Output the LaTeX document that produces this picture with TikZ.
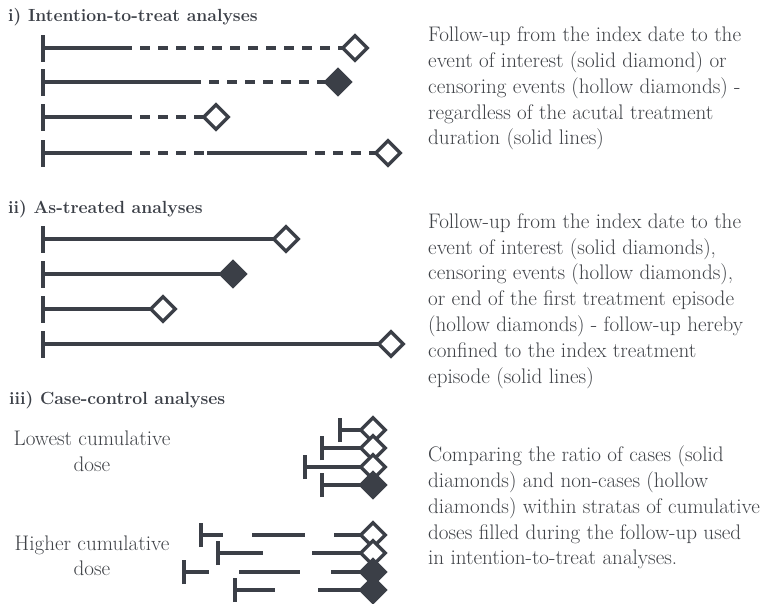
\documentclass[tikz,border=0pt]{standalone}
\usetikzlibrary{shapes.geometric,arrows.meta}
\definecolor{ink}{HTML}{3B3F47}
\definecolor{txt}{HTML}{3F4247}
\begin{document}
\begin{tikzpicture}[x=1pt,y=-1pt,
  ln/.style={ink,line width=3.8pt},
  dsh/.style={ln,dash pattern=on 10pt off 8pt,dash phase=10pt},
  tickA/.style={ln,{Bar[width=27pt]}-},
  tickB/.style={ln,{Bar[width=24pt]}-},
  hd/.style={diamond,draw=ink,fill=white,line width=3.4pt,minimum width=26pt,minimum height=26pt,inner sep=0pt},
  fd/.style={hd,fill=ink},
  ttl/.style={anchor=base west,inner sep=0pt,text=ink,font=\fontsize{17.6}{20}\selectfont\bfseries},
  body/.style={anchor=base west,inner sep=0pt,text=txt,font=\fontsize{21.1}{26}\selectfont},
  lab/.style={anchor=base,inner sep=0pt,text=txt,font=\fontsize{21.1}{26}\selectfont}
]
\useasboundingbox[fill=white] (0,0) rectangle (766,603);

% ---------- titles
\node[ttl] (t1) at (8,21.7) {i) Intention-to-treat analyses};
\node[ttl] (t2) at (8,213) {ii) As-treated analyses};
\node[ttl] (t3) at (9,404) {iii) Case-control analyses};

% ---------- section i
\coordinate (a1s) at (41,48);  \coordinate (a1m) at (132,48);
\coordinate (a2s) at (41,82);  \coordinate (a2m) at (201,82);
\coordinate (a3s) at (41,117); \coordinate (a3m) at (132,117);
\coordinate (a4s) at (41,153); \coordinate (a4m) at (132,153);
\coordinate (a4n) at (207,153); \coordinate (a4o) at (307,153);
\coordinate (a1d) at (355,48);
\coordinate (a2d) at (338,82);
\coordinate (a3d) at (216,117);
\coordinate (a4d) at (388,153);
\draw[tickA] (a1s) -- (a1m); \draw[dsh] (a1m) -- ([xshift=-13pt]a1d);
\draw[tickA] (a2s) -- (a2m); \draw[dsh] (a2m) -- ([xshift=-13pt]a2d);
\draw[tickA] (a3s) -- (a3m); \draw[dsh] (a3m) -- ([xshift=-13pt]a3d);
\draw[tickA] (a4s) -- (a4m); \draw[dsh] (a4m) -- (a4n);
\draw[ln] (a4n) -- (a4o); \draw[dsh] (a4o) -- ([xshift=-13pt]a4d);
\node[hd] (A1) at (a1d) {};
\node[fd] (A2) at (a2d) {};
\node[hd] (A3) at (a3d) {};
\node[hd] (A4) at (a4d) {};

% ---------- section ii
\coordinate (b1s) at (41,239); \coordinate (b1d) at (286,239);
\coordinate (b2s) at (41,274); \coordinate (b2d) at (233,274);
\coordinate (b3s) at (41,309); \coordinate (b3d) at (163,309);
\coordinate (b4s) at (41,344); \coordinate (b4d) at (391,344);
\draw[tickA] (b1s) -- ([xshift=-13pt]b1d);
\draw[tickA] (b2s) -- ([xshift=-13pt]b2d);
\draw[tickA] (b3s) -- ([xshift=-13pt]b3d);
\draw[tickA] (b4s) -- ([xshift=-13pt]b4d);
\node[hd] (B1) at (b1d) {};
\node[fd] (B2) at (b2d) {};
\node[hd] (B3) at (b3d) {};
\node[hd] (B4) at (b4d) {};

% ---------- section iii, lowest
\coordinate (c1s) at (338,430); \coordinate (c1d) at (373,430);
\coordinate (c2s) at (320,448); \coordinate (c2d) at (373,448);
\coordinate (c3s) at (303,467); \coordinate (c3d) at (373,467);
\coordinate (c4s) at (320,485); \coordinate (c4d) at (373,485);
\draw[tickB] (c1s) -- ([xshift=-13pt]c1d);
\draw[tickB] (c2s) -- ([xshift=-13pt]c2d);
\draw[tickB] (c3s) -- ([xshift=-13pt]c3d);
\draw[tickB] (c4s) -- ([xshift=-13pt]c4d);
\node[hd] (C1) at (c1d) {};
\node[hd] (C2) at (c2d) {};
\node[hd] (C3) at (c3d) {};
\node[fd] (C4) at (c4d) {};

% ---------- section iii, higher
\coordinate (e1s) at (199,535); \coordinate (e1a) at (223,535);
\coordinate (e1b) at (252,535); \coordinate (e1c) at (305,535);
\coordinate (e1e) at (334,535); \coordinate (e1d) at (373,535);
\coordinate (e2s) at (216,553); \coordinate (e2a) at (263,553);
\coordinate (e2b) at (312,553); \coordinate (e2d) at (373,553);
\coordinate (e3s) at (182,572); \coordinate (e3a) at (209,572);
\coordinate (e3b) at (239,572); \coordinate (e3c) at (300,572);
\coordinate (e3e) at (331,572); \coordinate (e3d) at (373,572);
\coordinate (e4s) at (233,590); \coordinate (e4a) at (275,590);
\coordinate (e4b) at (318,590); \coordinate (e4d) at (373,590);
\draw[tickB] (e1s) -- (e1a); \draw[ln] (e1b) -- (e1c); \draw[ln] (e1e) -- ([xshift=-13pt]e1d);
\draw[tickB] (e2s) -- (e2a); \draw[ln] (e2b) -- ([xshift=-13pt]e2d);
\draw[tickB] (e3s) -- (e3a); \draw[ln] (e3b) -- (e3c); \draw[ln] (e3e) -- ([xshift=-13pt]e3d);
\draw[tickB] (e4s) -- (e4a); \draw[ln] (e4b) -- ([xshift=-13pt]e4d);
\node[hd] (E1) at (e1d) {};
\node[hd] (E2) at (e2d) {};
\node[fd] (E3) at (e3d) {};
\node[fd] (E4) at (e4d) {};

% ---------- left labels
\node[lab] (lw1) at (92,445) {Lowest cumulative};
\node[lab] (lw2) at (92,471) {dose};
\node[lab] (hg1) at (92,550) {Higher cumulative};
\node[lab] (hg2) at (92,575) {dose};

% ---------- right texts
\node[body] (p1a) at (428,41.7) {Follow-up from the index date to the};
\node[body] (p1b) at (428,67.5) {event of interest (solid diamond) or};
\node[body] (p1c) at (428,93.3) {censoring events (hollow diamonds) -};
\node[body] (p1d) at (428,119.1) {regardless of the acutal treatment};
\node[body] (p1e) at (428,144.9) {duration (solid lines)};

\node[body] (p2a) at (428,228.3) {Follow-up from the index date to the};
\node[body] (p2b) at (428,254.1) {event of interest (solid diamonds),};
\node[body] (p2c) at (428,279.9) {censoring events (hollow diamonds),};
\node[body] (p2d) at (428,305.7) {or end of the first treatment episode};
\node[body] (p2e) at (428,331.5) {(hollow diamonds) - follow-up hereby};
\node[body] (p2f) at (428,357.3) {confined to the index treatment};
\node[body] (p2g) at (428,383.1) {episode (solid lines)};

\node[body] (p3a) at (428,461.7) {Comparing the ratio of cases (solid};
\node[body] (p3b) at (428,487.5) {diamonds) and non-cases (hollow};
\node[body] (p3c) at (428,513.3) {diamonds) within stratas of cumulative};
\node[body] (p3d) at (428,539.1) {doses filled during the follow-up used};
\node[body] (p3e) at (428,564.9) {in intention-to-treat analyses.};
\end{tikzpicture}
\end{document}
